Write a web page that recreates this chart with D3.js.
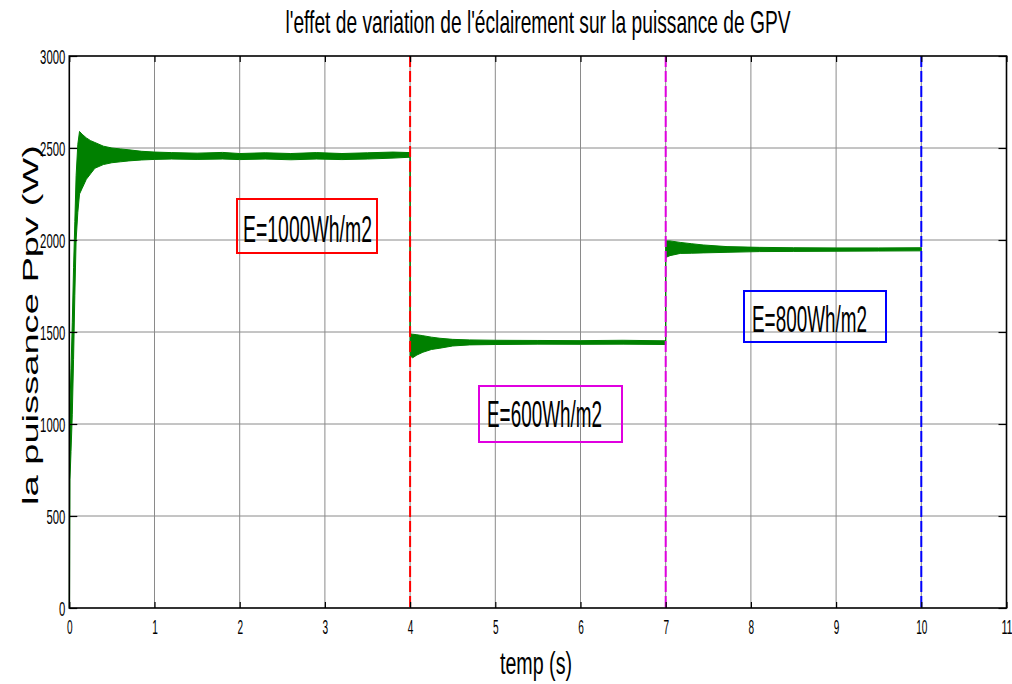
<!DOCTYPE html>
<html>
<head>
<meta charset="utf-8">
<script src="https://cdn.jsdelivr.net/npm/d3@7"></script>
<style>
  body { margin: 0; background: #fff; }
  svg { display: block; }
  text { font-family: "Liberation Sans", Arial, sans-serif; fill: #000; }
</style>
</head>
<body>
<svg id="chart" width="1012" height="684"></svg>
<script>
// ---- data -------------------------------------------------------------
const xTickValues = [0, 1, 2, 3, 4, 5, 6, 7, 8, 9, 10, 11];
const yTickValues = [0, 500, 1000, 1500, 2000, 2500, 3000];

// PV power envelope (W) against time (s): upper and lower edge of the ripple band
const time = [
  0, 0.003, 0.008, 0.02, 0.035, 0.05, 0.065, 0.08, 0.1, 0.12, 0.15, 0.2, 0.25, 0.3,
  0.4, 0.5, 0.6, 0.7, 0.85, 1.0, 1.2, 1.5, 1.8, 2.0, 2.3, 2.6, 2.9, 3.2, 3.5, 3.8, 4.0,
  4.0, 4.03, 4.08, 4.15, 4.25, 4.35, 4.5, 4.7, 5.0, 5.5, 6.0, 6.5, 7.0,
  7.0, 7.05, 7.17, 7.3, 7.44, 7.72, 8.1, 8.5, 9.0, 9.5, 10.0
];
const powerHigh = [
  0, 700, 1100, 1300, 1550, 1850, 2100, 2350, 2520, 2590, 2575, 2555, 2540, 2530,
  2510, 2500, 2495, 2490, 2482, 2478, 2475, 2472, 2476, 2470, 2474, 2470, 2475, 2470, 2474, 2478, 2475,
  1490, 1488, 1485, 1480, 1472, 1466, 1460, 1457, 1455, 1454, 1453, 1455, 1452,
  1995, 1995, 1987, 1980, 1973, 1964, 1960, 1958, 1957, 1957, 1958
];
const powerLow = [
  0, 0, 700, 850, 1050, 1350, 1700, 2000, 2150, 2250, 2280, 2330, 2360, 2390,
  2410, 2420, 2425, 2430, 2435, 2438, 2440, 2438, 2440, 2437, 2440, 2436, 2440, 2437, 2440, 2445, 2450,
  1370, 1360, 1375, 1390, 1405, 1412, 1424, 1430, 1432, 1434, 1433, 1434, 1432,
  1905, 1915, 1927, 1928, 1930, 1933, 1937, 1938, 1939, 1940, 1941
];

// irradiance step instants (s) and their labels
const stepTimes = [4, 7, 10];
const irradianceLabels = ["E=1000Wh/m2", "E=600Wh/m2", "E=800Wh/m2"];

// ---- styles & layout --------------------------------------------------
const stepColors = ["#ff0000", "#e000e0", "#0000ff"];
const traceColor = "#008000";
const gridColor = "#8a8a8a";
const labelBoxes = [
  { x: 237, y: 199, w: 140, h: 54, textX: 243, baseline: 242, textW: 129 },
  { x: 479, y: 386, w: 143, h: 56, textX: 487, baseline: 427, textW: 115 },
  { x: 744, y: 291, w: 142, h: 51, textX: 752, baseline: 332, textW: 115 }
];

const svg = d3.select("#chart");
const plotLeft = 69.3, plotRight = 1006.5, plotTop = 56, plotBottom = 608;

const x = d3.scaleLinear().domain([0, 11]).range([plotLeft, plotRight]);
const y = d3.scaleLinear().domain([0, 3000]).range([plotBottom, plotTop]);

svg.append("rect").attr("width", 1012).attr("height", 684).attr("fill", "#fff");

// grid
const grid = svg.append("g").attr("stroke", gridColor).attr("stroke-width", 1);
grid.selectAll("line.v").data(xTickValues.slice(1, -1)).join("line").attr("class", "v")
  .attr("x1", d => x(d)).attr("x2", d => x(d)).attr("y1", plotTop).attr("y2", plotBottom);
grid.selectAll("line.h").data(yTickValues.slice(1, -1)).join("line").attr("class", "h")
  .attr("x1", plotLeft).attr("x2", plotRight).attr("y1", d => y(d)).attr("y2", d => y(d));

// power trace
const pts = time.map((t, i) => ({ t, hi: powerHigh[i], lo: powerLow[i] }));
const band = d3.area().x(d => x(d.t)).y0(d => y(d.lo)).y1(d => y(d.hi));
svg.append("path").datum(pts).attr("d", band)
  .attr("fill", traceColor).attr("stroke", traceColor)
  .attr("stroke-width", 1).attr("stroke-linejoin", "round");

// irradiance step markers
svg.selectAll("line.step").data(stepTimes).join("line").attr("class", "step")
  .attr("x1", d => x(d)).attr("x2", d => x(d)).attr("y1", plotTop).attr("y2", plotBottom)
  .attr("stroke", (d, i) => stepColors[i]).attr("stroke-width", 2)
  .attr("stroke-dasharray", "11,4");

// axes (ticks point inward, on all four sides)
const axB = svg.append("g").attr("transform", `translate(0,${plotBottom})`)
  .call(d3.axisBottom(x).tickValues(xTickValues).tickSizeInner(-6).tickSizeOuter(0).tickFormat(d3.format("d")));
const axT = svg.append("g").attr("transform", `translate(0,${plotTop})`)
  .call(d3.axisTop(x).tickValues(xTickValues).tickSizeInner(-6).tickSizeOuter(0).tickFormat(""));
const axL = svg.append("g").attr("transform", `translate(${plotLeft},0)`)
  .call(d3.axisLeft(y).tickValues(yTickValues).tickSizeInner(-8).tickSizeOuter(0).tickFormat(d3.format("d")));
const axR = svg.append("g").attr("transform", `translate(${plotRight},0)`)
  .call(d3.axisRight(y).tickValues(yTickValues).tickSizeInner(-8).tickSizeOuter(0).tickFormat(""));
[axB, axT, axL, axR].forEach(a => {
  a.select(".domain").remove();
  a.selectAll(".tick line").attr("stroke", "#000").attr("stroke-width", 1.2);
});
axB.selectAll(".tick text")
  .attr("y", 26).attr("dy", null).attr("font-size", 20)
  .attr("textLength", d => String(d).length * 5.6).attr("lengthAdjust", "spacingAndGlyphs")
  .style("font-family", "'Liberation Sans', Arial, sans-serif").attr("fill", "#000");
axL.selectAll(".tick text")
  .attr("x", -4).attr("y", 7.5).attr("dy", null).attr("font-size", 21)
  .attr("textLength", d => String(d).length * 6.3).attr("lengthAdjust", "spacingAndGlyphs")
  .style("font-family", "'Liberation Sans', Arial, sans-serif").attr("fill", "#000");

svg.append("rect").attr("x", plotLeft).attr("y", plotTop)
  .attr("width", plotRight - plotLeft).attr("height", plotBottom - plotTop)
  .attr("fill", "none").attr("stroke", "#000").attr("stroke-width", 1.6);

// irradiance text boxes
labelBoxes.forEach((b, i) => {
  svg.append("rect").attr("x", b.x).attr("y", b.y).attr("width", b.w).attr("height", b.h)
    .attr("fill", "none").attr("stroke", stepColors[i]).attr("stroke-width", 2);
  svg.append("text").attr("x", b.textX).attr("y", b.baseline)
    .attr("font-size", 36).attr("textLength", b.textW).attr("lengthAdjust", "spacingAndGlyphs")
    .text(irradianceLabels[i]);
});

// titles
svg.append("text").attr("x", 538).attr("y", 33).attr("text-anchor", "middle")
  .attr("font-size", 32).attr("textLength", 505).attr("lengthAdjust", "spacingAndGlyphs")
  .text("l'effet de variation de l'éclairement sur la puissance de GPV");
svg.append("text").attr("x", 536).attr("y", 674).attr("text-anchor", "middle")
  .attr("font-size", 31).attr("textLength", 72).attr("lengthAdjust", "spacingAndGlyphs")
  .text("temp (s)");
svg.append("text").attr("transform", "translate(38,325) rotate(-90)").attr("text-anchor", "middle")
  .attr("font-size", 22).attr("textLength", 360).attr("lengthAdjust", "spacingAndGlyphs")
  .text("la puissance Ppv (W)");
</script>
</body>
</html>
